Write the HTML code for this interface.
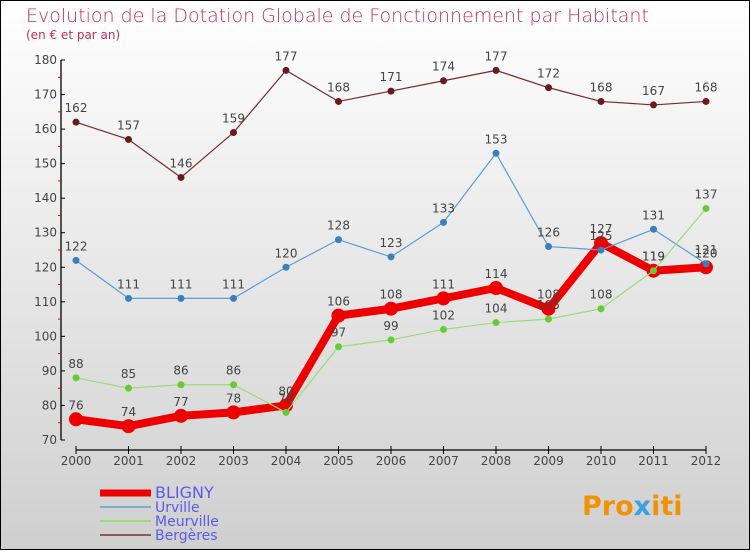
<!DOCTYPE html>
<html><head><meta charset="utf-8"><style>
html,body{margin:0;padding:0}
body{width:750px;height:550px;overflow:hidden;font-family:"DejaVu Sans","Liberation Sans",sans-serif}
</style></head><body>
<svg id="chart" width="750" height="550" viewBox="0 0 750 550" xmlns="http://www.w3.org/2000/svg">
<defs><linearGradient id="bg" x1="0" y1="0" x2="0" y2="1"><stop offset="0" stop-color="#ffffff"/><stop offset="1" stop-color="#cfcfcf"/></linearGradient></defs>
<rect x="0.5" y="0.5" width="749" height="549" fill="url(#bg)" stroke="#000"/>
<text x="26" y="22" font-size="19" fill="#c0305a" font-weight="300">Evolution de la Dotation Globale de Fonctionnement par Habitant</text>
<text x="26" y="39" font-size="12" fill="#c0305a">(en € et par an)</text>
<g id="axes"></g>
<g id="series"></g>
<g id="legend"></g>
<text x="582" y="515" font-size="27" font-weight="bold" fill="#f39200">Pro<tspan fill="#3aa0e0">x</tspan>iti</text>
</svg>
<script>
const years=["2000","2001","2002","2003","2004","2005","2006","2007","2008","2009","2010","2011","2012"];
const yTicks=[70,80,90,100,110,120,130,140,150,160,170,180];
const bligny=[76,74,77,78,80,106,108,111,114,108,127,119,120];
const urville=[122,111,111,111,120,128,123,133,153,126,125,131,121];
const meurville=[88,85,86,86,78,97,99,102,104,105,108,119,137];
const bergeres=[162,157,146,159,177,168,171,174,177,172,168,167,168];
const NS="http://www.w3.org/2000/svg";
function X(i){return 76+i*52.5;}
function Y(v){return 440-(v-70)*3.4545;}
function mk(tag,attrs,parent,name){const e=document.createElementNS(NS,tag);for(const k in attrs)e.setAttribute(k,attrs[k]);


parent.appendChild(e);return e;}
const ax=document.getElementById('axes');
mk('line',{x1:61,y1:Y(180),x2:61,y2:Y(70),stroke:'#000','stroke-width':1.3},ax,'y-axis');
yTicks.forEach(v=>{mk('line',{x1:61,y1:Y(v),x2:65,y2:Y(v),stroke:'#000'},ax,'y-tick');
const t=mk('text',{x:57,y:Y(v)+4,'font-size':12,fill:'#444','text-anchor':'end'},ax,'y-tick-label');t.textContent=v;
if(v<180)mk('line',{x1:58,y1:Y(v+5),x2:61,y2:Y(v+5),stroke:'#e00'},ax,'y-minor-tick');});
mk('line',{x1:X(0),y1:450,x2:X(12),y2:450,stroke:'#000','stroke-width':1.3},ax,'x-axis');
years.forEach((y,i)=>{mk('line',{x1:X(i),y1:446,x2:X(i),y2:454,stroke:'#000'},ax,'x-tick');
const t=mk('text',{x:X(i),y:465,'font-size':12,fill:'#444','text-anchor':'middle'},ax,'x-tick-label');t.textContent=y;});
const sg=document.getElementById('series');
function draw(data,color,dot,w,r,name){
 const g=mk('g',{},sg,name+'-series');
 mk('polyline',{points:data.map((v,i)=>X(i)+','+Y(v)).join(' '),fill:'none',stroke:color,'stroke-width':w,'stroke-linejoin':'round'},g,name+'-line');
 data.forEach((v,i)=>{mk('circle',{cx:X(i),cy:Y(v),r:r,fill:dot},g,name+'-point');
 const t=mk('text',{x:X(i),y:Y(v)-10,'font-size':12,fill:'#444','text-anchor':'middle'},g,name+'-value-label');t.textContent=v;});
}
draw(bligny,'#ee0000','#ee0000',8,7,'bligny');
draw(bergeres,'#7a2a2a','#6a1a1a',1.2,3.5,'bergeres');
draw(urville,'#5a9fd0','#3a80c0',1.2,3.5,'urville');
draw(meurville,'#99dd77','#66cc33',1.2,3.5,'meurville');
const lg=document.getElementById('legend');
const items=[['BLIGNY','#ee0000',7,497,16],['Urville','#7aaed0',2,511,14],['Meurville','#99dd77',2,525,14],['Bergères','#8a5a5a',2,539,14]];
items.forEach(it=>{mk('line',{x1:100,y1:it[3]-4,x2:151,y2:it[3]-4,stroke:it[1],'stroke-width':it[2]},lg,'legend-swatch');
const t=mk('text',{x:155,y:it[3]+1,'font-size':it[4],fill:'#5a5aee'},lg,'legend-entry');t.textContent=it[0];});
</script>
</body></html>
